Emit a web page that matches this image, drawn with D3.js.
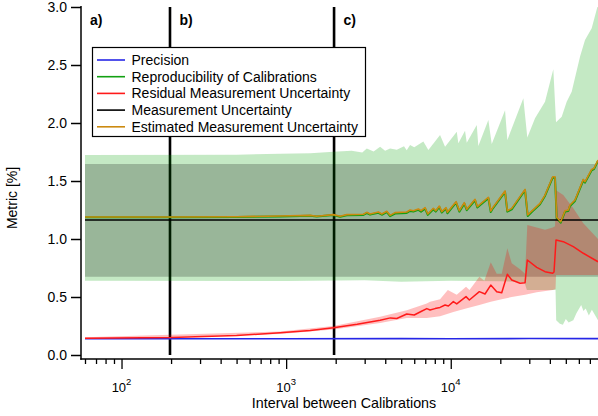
<!DOCTYPE html>
<html>
<head>
<meta charset="utf-8">
<script src="https://cdn.jsdelivr.net/npm/d3@7"></script>
<style>
  body { margin: 0; background: #fff; }
  svg { display: block; }
  text { font-family: "Liberation Sans", Arial, sans-serif; fill: #000; }
</style>
</head>
<body>
<svg id="chart" width="598" height="416"></svg>
<script>
// ---- data: interval between calibrations vs. metric [%] ----
const estX = [60, 200, 500, 919, 1399, 1536, 1938, 2128, 2337, 2947, 3090, 3236, 3634, 3811, 4088, 4280, 4589, 5405, 5660, 5928, 6358, 6600, 6982, 7252, 7842, 8106, 8527, 8820, 9365, 9537, 10770, 11280, 12090, 12510, 14050, 14500, 16920, 17500, 17990, 21370, 22070, 23470, 28270, 29350, 31030, 34850, 37370, 41620, 42990, 44020, 46550, 49430, 51780, 53020, 56850, 63860, 65390, 71800, 74150, 78430];
const estY = [1.19, 1.19, 1.192, 1.198, 1.204, 1.196, 1.21, 1.196, 1.21, 1.213, 1.23, 1.216, 1.233, 1.216, 1.239, 1.204, 1.227, 1.233, 1.25, 1.244, 1.259, 1.244, 1.27, 1.216, 1.265, 1.244, 1.284, 1.236, 1.27, 1.23, 1.322, 1.244, 1.313, 1.256, 1.342, 1.279, 1.36, 1.241, 1.27, 1.414, 1.244, 1.264, 1.428, 1.207, 1.241, 1.307, 1.379, 1.537, 1.537, 1.187, 1.149, 1.244, 1.25, 1.293, 1.336, 1.514, 1.494, 1.60, 1.61, 1.68];
const repY = [1.188, 1.188, 1.19, 1.195, 1.2, 1.193, 1.206, 1.192, 1.205, 1.207, 1.224, 1.21, 1.226, 1.209, 1.232, 1.197, 1.219, 1.225, 1.242, 1.236, 1.251, 1.236, 1.262, 1.208, 1.257, 1.236, 1.276, 1.228, 1.262, 1.222, 1.314, 1.236, 1.305, 1.248, 1.334, 1.271, 1.352, 1.233, 1.262, 1.406, 1.236, 1.256, 1.42, 1.199, 1.233, 1.299, 1.371, 1.529, 1.529, 1.179, 1.141, 1.236, 1.242, 1.285, 1.328, 1.506, 1.486, 1.592, 1.602, 1.672];

const resX = [60, 200, 500, 919, 1400, 1938, 2700, 3722, 4300, 4700, 5405, 6000, 6600, 7151, 7487, 8030, 8610, 9235, 9670, 10370, 10875, 12380, 12970, 14920, 16150, 17500, 19020, 20400, 22070, 23470, 26360, 28270, 29180, 33290, 37370, 41620, 42390, 43600, 48270, 55520, 63860, 78430];
const resY = [0.145, 0.15, 0.168, 0.192, 0.212, 0.235, 0.265, 0.30, 0.32, 0.315, 0.353, 0.345, 0.375, 0.40, 0.388, 0.40, 0.41, 0.431, 0.422, 0.46, 0.44, 0.503, 0.474, 0.546, 0.526, 0.603, 0.546, 0.537, 0.696, 0.647, 0.618, 0.623, 0.819, 0.756, 0.718, 0.704, 0.715, 0.991, 0.977, 0.934, 0.877, 0.804];

const resHiX = [60, 919, 1938, 3722, 5405, 7151, 7487, 8610, 9600, 10870, 12380, 13000, 14920, 16000, 17500, 19020, 20400, 22070, 23470, 26360, 28270, 29180, 33290, 37370, 41620, 43000, 43600, 48270, 55520, 63860, 78430];
const resHiY = [0.152, 0.203, 0.25, 0.33, 0.385, 0.445, 0.46, 0.48, 0.56, 0.52, 0.589, 0.56, 0.675, 0.64, 0.80, 0.70, 0.70, 0.92, 0.79, 0.74, 0.70, 1.12, 1.10, 1.08, 1.10, 1.11, 1.42, 1.38, 1.265, 1.135, 1.0];
const resLoX = [60, 919, 1938, 3722, 5405, 7151, 8610, 10370, 12380, 14920, 17500, 20400, 23470, 28270, 33290, 41620, 43300, 43600, 78430];
const resLoY = [0.138, 0.18, 0.22, 0.275, 0.32, 0.32, 0.335, 0.37, 0.40, 0.43, 0.46, 0.48, 0.50, 0.52, 0.54, 0.56, 0.57, 0.69, 0.69];

const repHiX = [60, 500, 919, 1400, 1938, 2500, 2900, 3090, 3400, 3722, 3992, 4280, 4700, 5200, 5400, 5660, 6000, 6818, 7311, 8610, 9235, 10875, 11120, 12210, 12510, 14390, 14710, 16920, 17740, 21370, 22070, 27600, 29180, 32500, 37370, 41980, 43600, 47210, 50610, 54280, 60970, 65390, 71800, 78430];
const repHiY = [1.724, 1.726, 1.735, 1.74, 1.753, 1.76, 1.745, 1.78, 1.755, 1.796, 1.761, 1.78, 1.77, 1.80, 1.765, 1.81, 1.79, 1.84, 1.767, 1.897, 1.796, 1.925, 1.825, 1.933, 1.83, 1.983, 1.802, 2.026, 1.819, 2.11, 1.853, 2.213, 1.876, 2.04, 2.184, 2.463, 2.006, 2.054, 2.184, 2.27, 2.572, 2.716, 2.816, 3.02];
const repLoX = [60, 1000, 3000, 5000, 10000, 20000, 28000, 29000, 43300, 43700, 46000, 48000, 50000, 52000, 55520, 58000, 62000, 64000, 66000, 69000, 72000, 78430];
const repLoY = [0.64, 0.638, 0.645, 0.632, 0.64, 0.635, 0.63, 0.56, 0.56, 0.30, 0.27, 0.26, 0.31, 0.28, 0.30, 0.36, 0.43, 0.38, 0.40, 0.34, 0.39, 0.30];

const measX = [60, 78430];
const measY = [1.164, 1.164];
const measHiY = [1.647, 1.647];
const measLoY = [0.675, 0.675];

const precX = [60, 1000, 5000, 10000, 30000, 78430];
const precY = [0.14, 0.14, 0.141, 0.14, 0.142, 0.141];

const markerX = [197, 1955];
const markerLabels = ["b)", "c)"];

const yTicks = [0, 0.5, 1.0, 1.5, 2.0, 2.5, 3.0];
const xMajor = [100, 1000, 10000];
const xMajorExp = ["2", "3", "4"];
const xMinor = [60, 70, 80, 90, 200, 300, 400, 500, 600, 700, 800, 900,
                2000, 3000, 4000, 5000, 6000, 7000, 8000, 9000,
                20000, 30000, 40000, 50000, 60000, 70000];

const legendNames = ["Precision", "Reproducibility of Calibrations", "Residual Measurement Uncertainty",
                     "Measurement Uncertainty", "Estimated Measurement Uncertainty"];
const legendColors = ["#2626e6", "#12a012", "#ff1a1a", "#000000", "#cc8a10"];

// ---- layout ----
const svg = d3.select("#chart");
const x = d3.scaleLog().domain([60, 78430]).range([85, 598]);
const y = d3.scaleLinear().domain([0, 3]).range([355, 7]);

svg.append("defs").append("clipPath").attr("id", "plotclip")
  .append("rect").attr("x", 85).attr("y", 7).attr("width", 513).attr("height", 348);

const zip = (xs, ys) => xs.map((v, i) => [v, ys[i]]);
const line = d3.line().x(d => x(d[0])).y(d => y(d[1]));
const bandPath = (hx, hy, lx, ly) =>
  line(zip(hx, hy).concat(zip(lx, ly).reverse())) + "Z";

const plotG = svg.append("g").attr("clip-path", "url(#plotclip)");

// vertical markers sit underneath the shaded bands
plotG.selectAll("line.marker").data(markerX).join("line")
  .attr("class", "marker")
  .attr("x1", d => x(d)).attr("x2", d => x(d))
  .attr("y1", y(3)).attr("y2", y(0))
  .attr("stroke", "#000").attr("stroke-width", 2.6);

// shaded uncertainty bands
plotG.append("path").attr("d", bandPath(repHiX, repHiY, repLoX, repLoY))
  .attr("fill", "rgb(0,160,0)").attr("fill-opacity", 0.23);
plotG.append("path").attr("d", bandPath(measX, measHiY, measX, measLoY))
  .attr("fill", "#000").attr("fill-opacity", 0.22);
plotG.append("path").attr("d", bandPath(resHiX, resHiY, resLoX, resLoY))
  .attr("fill", "rgb(255,0,0)").attr("fill-opacity", 0.25);

// series lines
const series = [
  { xs: precX, ys: precY, color: legendColors[0], w: 1.6 },
  { xs: estX, ys: repY, color: legendColors[1], w: 2.0 },
  { xs: resX, ys: resY, color: legendColors[2], w: 1.5 },
  { xs: measX, ys: measY, color: legendColors[3], w: 1.3 },
  { xs: estX, ys: estY, color: legendColors[4], w: 1.6 }
];
series.forEach(s => {
  plotG.append("path").attr("d", line(zip(s.xs, s.ys)))
    .attr("fill", "none").attr("stroke", s.color).attr("stroke-width", s.w)
    .attr("stroke-linejoin", "round");
});

// ---- axes ----
const yAxis = svg.append("g").attr("transform", "translate(81,0)")
  .call(d3.axisLeft(y).tickValues(yTicks).tickFormat(d3.format(".1f"))
        .tickSize(10).tickPadding(4));
yAxis.select(".domain").remove();
yAxis.selectAll(".tick line").attr("stroke", "#000").attr("stroke-width", 1.5);
yAxis.selectAll(".tick text").style("font-size", "14px")
  .style("font-family", "'Liberation Sans', Arial, sans-serif");

const xAxis = svg.append("g").attr("transform", "translate(0,359)")
  .call(d3.axisBottom(x).tickValues(xMajor.concat(xMinor)).tickFormat("").tickSize(10));
xAxis.select(".domain").remove();
xAxis.selectAll(".tick line")
  .attr("y2", d => xMajor.includes(d) ? 10 : 5)
  .attr("stroke", "#000").attr("stroke-width", 1.3);

// decade labels as 10 with superscript exponent
const xl = svg.append("g");
xMajor.forEach((v, i) => {
  const t = xl.append("text").attr("x", x(v)).attr("y", 392)
    .attr("text-anchor", "middle").style("font-size", "13px");
  t.append("tspan").text("10");
  t.append("tspan").attr("dy", -7).style("font-size", "9.5px").text(xMajorExp[i]);
});

// axis lines, offset from the plot area
svg.append("line").attr("x1", 81).attr("x2", 81).attr("y1", 6).attr("y2", 359.7)
  .attr("stroke", "#000").attr("stroke-width", 1.5);
svg.append("line").attr("x1", 80.3).attr("x2", 598).attr("y1", 359).attr("y2", 359)
  .attr("stroke", "#000").attr("stroke-width", 1.5);

// axis titles
svg.append("text").attr("x", 344).attr("y", 408).attr("text-anchor", "middle")
  .style("font-size", "14.3px").text("Interval between Calibrations");
svg.append("text").attr("transform", "translate(17,198) rotate(-90)")
  .attr("text-anchor", "middle").style("font-size", "14px").text("Metric [%]");

// panel labels
svg.append("text").attr("x", 90).attr("y", 25).style("font-size", "14px")
  .style("font-weight", "bold").text("a)");
markerX.forEach((v, i) => {
  svg.append("text").attr("x", x(v) + 9.5).attr("y", 25).style("font-size", "14px")
    .style("font-weight", "bold").text(markerLabels[i]);
});

// ---- legend ----
const lg = svg.append("g");
lg.append("rect").attr("x", 92.5).attr("y", 47.5).attr("width", 273).attr("height", 89)
  .attr("fill", "#fff").attr("stroke", "#000").attr("stroke-width", 1.2);
legendNames.forEach((name, i) => {
  const cy = 60 + i * 16.7;
  lg.append("line").attr("x1", 97).attr("x2", 125).attr("y1", cy).attr("y2", cy)
    .attr("stroke", legendColors[i]).attr("stroke-width", 1.6);
  lg.append("text").attr("x", 131.5).attr("y", cy).attr("dy", "0.35em")
    .style("font-size", "14px").text(name);
});
</script>
</body>
</html>
